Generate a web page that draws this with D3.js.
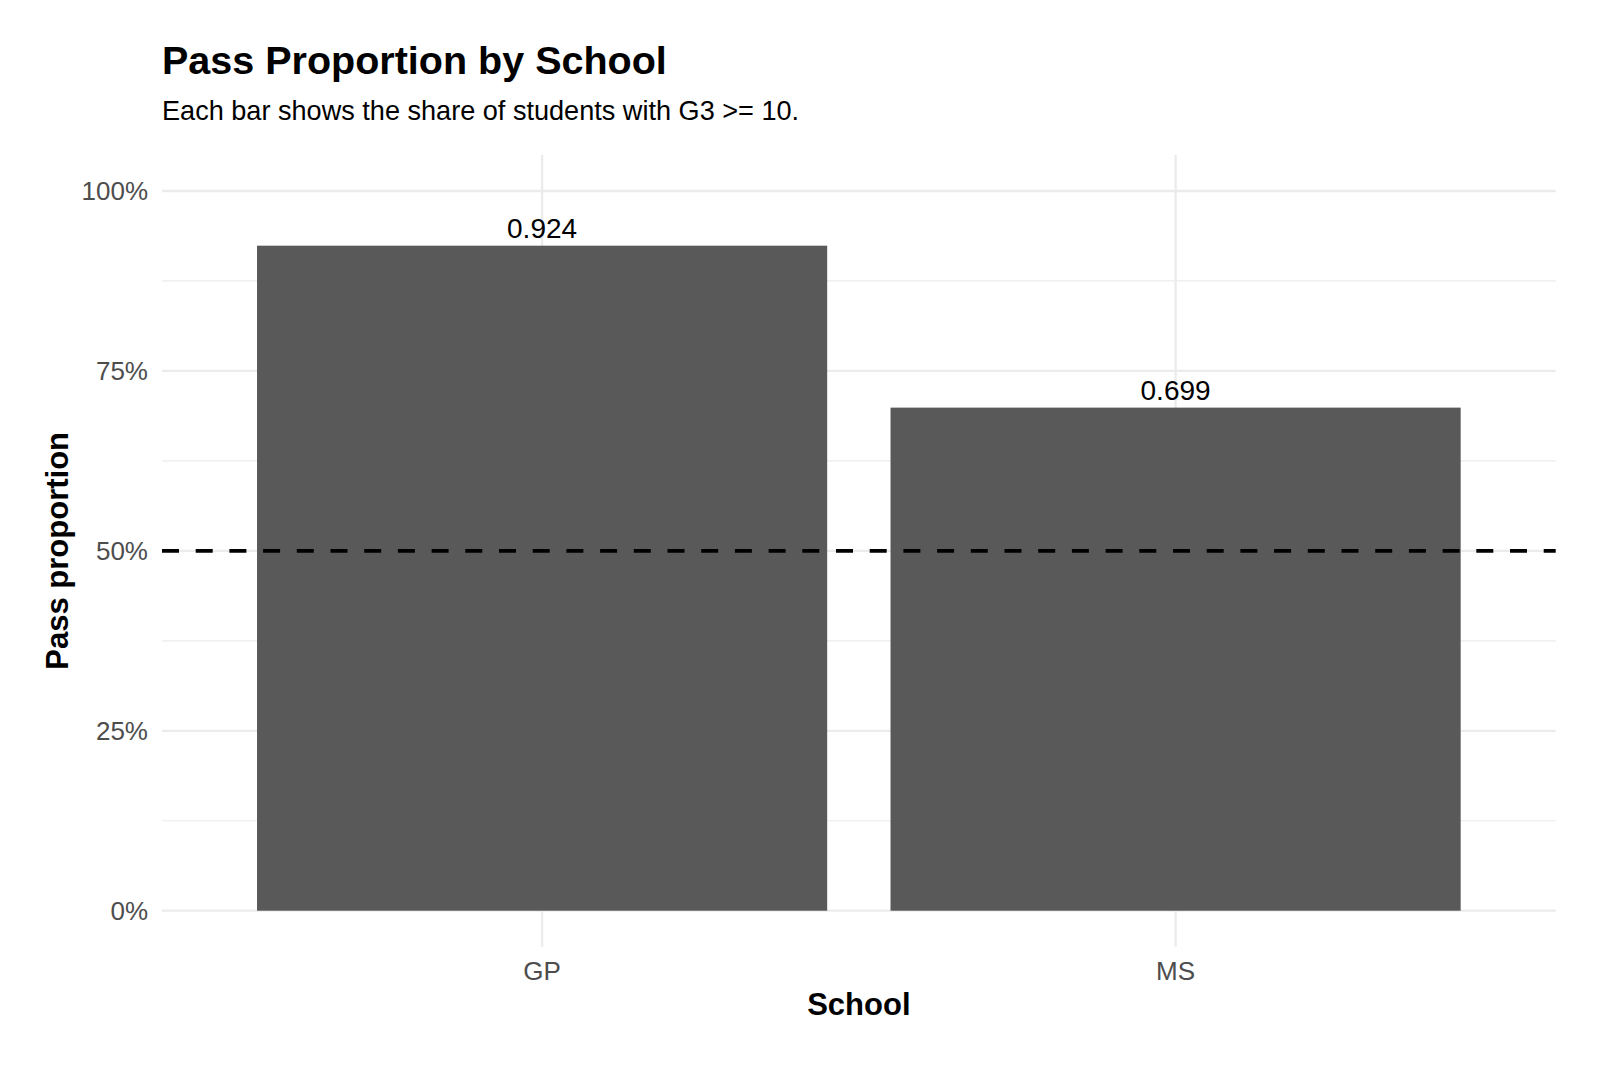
<!DOCTYPE html>
<html>
<head>
<meta charset="utf-8">
<script src="https://cdn.jsdelivr.net/npm/d3@7"></script>
<style>
  html, body { margin: 0; padding: 0; background: #fff; }
  svg { display: block; font-family: "Liberation Sans", Arial, sans-serif; }
</style>
</head>
<body>
<svg id="chart" width="1600" height="1067"></svg>
<script>
// data
const schools = ['GP', 'MS']
const passProportion = [0.924, 0.699]
const yTicks = [0, 0.25, 0.5, 0.75, 1]
const yMinorTicks = [0.125, 0.375, 0.625, 0.875]
const threshold = 0.5

const panel = { left: 162, right: 1555.7, top: 155, bottom: 946.7 }

const svg = d3.select('#chart')

const x = d3.scaleBand()
  .domain(schools)
  .range([panel.left, panel.right])
  .paddingInner(0.1)
  .paddingOuter(0.15)

const y = d3.scaleLinear()
  .domain([-0.05, 1.05])
  .range([panel.bottom, panel.top])

const g = svg.append('g')

// minor grid
g.selectAll('line.minor')
  .data(yMinorTicks)
  .join('line')
  .attr('x1', panel.left).attr('x2', panel.right)
  .attr('y1', d => y(d)).attr('y2', d => y(d))
  .attr('stroke', '#ebebeb').attr('stroke-width', 1.2)

// major grid
g.selectAll('line.major')
  .data(yTicks)
  .join('line')
  .attr('x1', panel.left).attr('x2', panel.right)
  .attr('y1', d => y(d)).attr('y2', d => y(d))
  .attr('stroke', '#ebebeb').attr('stroke-width', 2.3)

g.selectAll('line.vgrid')
  .data(schools)
  .join('line')
  .attr('x1', d => x(d) + x.bandwidth() / 2).attr('x2', d => x(d) + x.bandwidth() / 2)
  .attr('y1', panel.top).attr('y2', panel.bottom)
  .attr('stroke', '#ebebeb').attr('stroke-width', 2.3)

// bars
g.selectAll('rect.bar')
  .data(schools)
  .join('rect')
  .attr('x', d => x(d))
  .attr('width', x.bandwidth())
  .attr('y', (d, i) => y(passProportion[i]))
  .attr('height', (d, i) => y(0) - y(passProportion[i]))
  .attr('fill', '#595959')

// value labels
g.selectAll('text.value')
  .data(schools)
  .join('text')
  .attr('x', d => x(d) + x.bandwidth() / 2)
  .attr('y', (d, i) => y(passProportion[i]) - 8)
  .attr('text-anchor', 'middle')
  .attr('font-size', 28)
  .attr('fill', '#000')
  .text((d, i) => passProportion[i].toFixed(3))

// threshold
g.append('line')
  .attr('x1', panel.left).attr('x2', panel.right)
  .attr('y1', y(threshold)).attr('y2', y(threshold))
  .attr('stroke', '#000').attr('stroke-width', 3.6)
  .attr('stroke-dasharray', '17,16.7')

// y axis labels
const yAxis = d3.axisLeft(y).tickValues(yTicks).tickFormat(d3.format('.0%')).tickSize(0).tickPadding(14)
svg.append('g')
  .attr('transform', `translate(${panel.left},0)`)
  .call(yAxis)
  .call(a => a.select('.domain').remove())
  .call(a => a.selectAll('text').attr('font-size', 26).attr('fill', '#4d4d4d').attr('font-family', null))

// x axis labels
const xAxis = d3.axisBottom(x).tickSize(0).tickPadding(15)
svg.append('g')
  .attr('transform', `translate(0,${panel.bottom})`)
  .call(xAxis)
  .call(a => a.select('.domain').remove())
  .call(a => a.selectAll('text').attr('font-size', 26).attr('fill', '#4d4d4d').attr('font-family', null))

// titles
svg.append('text')
  .attr('x', 162).attr('y', 73.5)
  .attr('font-size', 39.5).attr('font-weight', 'bold')
  .text('Pass Proportion by School')

svg.append('text')
  .attr('x', 162).attr('y', 120)
  .attr('font-size', 27.1)
  .text('Each bar shows the share of students with G3 >= 10.')

svg.append('text')
  .attr('x', (panel.left + panel.right) / 2).attr('y', 1015)
  .attr('text-anchor', 'middle')
  .attr('font-size', 31).attr('font-weight', 'bold')
  .text('School')

svg.append('text')
  .attr('transform', `translate(68,${(y(0) + y(1)) / 2}) rotate(-90)`)
  .attr('text-anchor', 'middle')
  .attr('font-size', 31).attr('font-weight', 'bold')
  .text('Pass proportion')
</script>
</body>
</html>
